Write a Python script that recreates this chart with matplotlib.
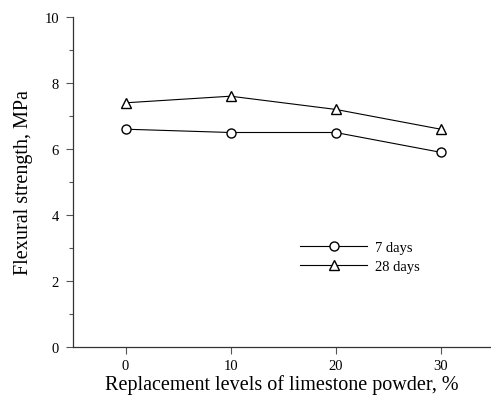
import matplotlib.pyplot as plt
from matplotlib.ticker import MultipleLocator

# data
levels = [0, 10, 20, 30]
days7 = [6.6, 6.5, 6.5, 5.9]
days28 = [7.4, 7.6, 7.2, 6.6]

plt.rcParams['font.family'] = ['Liberation Serif', 'DejaVu Serif']

fig = plt.figure(figsize=(4.91, 4.02), dpi=100)
ax = fig.add_axes([73 / 491, 54 / 402, 417 / 491, 330 / 402])

ax.plot(levels, days7, color='black', lw=0.8, marker='o', ms=6.5,
        mfc='white', mec='black', mew=1.0, label='7 days')
ax.plot(levels, days28, color='black', lw=0.8, marker='^', ms=6.5,
        mfc='white', mec='black', mew=1.0, label='28 days')

ax.set_xlim(-5, 34.7)
ax.set_ylim(0, 10)
ax.set_xticks(levels)
ax.yaxis.set_major_locator(MultipleLocator(2))
ax.yaxis.set_minor_locator(MultipleLocator(1))
ax.tick_params(axis='both', which='major', direction='out', length=5,
               width=0.8, labelsize=10.5, color='#555555')
ax.tick_params(axis='y', which='major', pad=5)
ax.tick_params(axis='y', which='minor', direction='out', length=3,
               width=0.8, color='#555555')

for s in ['top', 'right']:
    ax.spines[s].set_visible(False)
for s in ['left', 'bottom']:
    ax.spines[s].set_linewidth(0.9)
    ax.spines[s].set_color('#333333')

ax.set_xlabel('Replacement levels of limestone powder, %', fontsize=14.5, labelpad=2)
ax.set_ylabel('Flexural strength, MPa', fontsize=14.5, labelpad=8)

ax.legend(loc='center left', bbox_to_anchor=(300 / 491, 1 - 258 / 402),
          bbox_transform=fig.transFigure, frameon=False, fontsize=10.5,
          handlelength=4.6, handletextpad=0.55, labelspacing=0.45,
          borderpad=0, borderaxespad=0)

plt.savefig('out.png', dpi=100)
